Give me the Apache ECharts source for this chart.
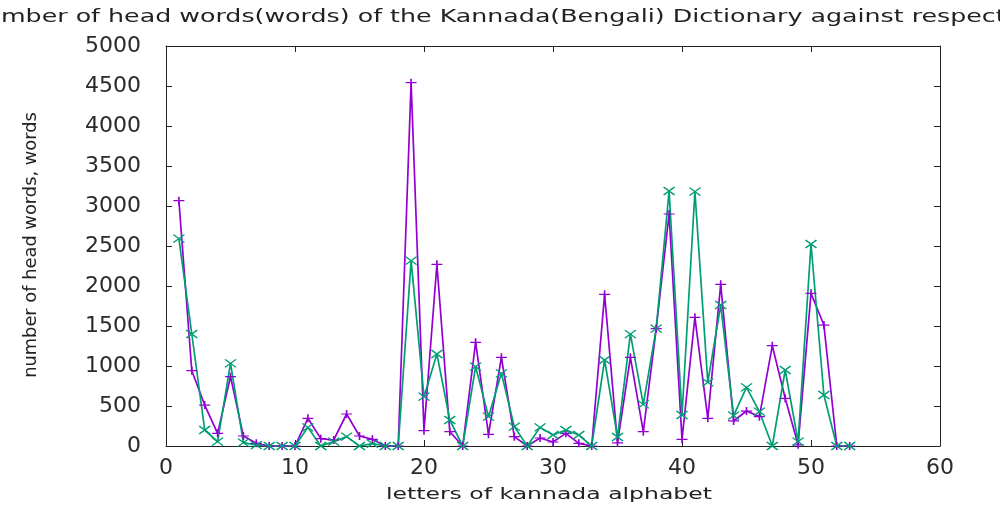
<!DOCTYPE html>
<html>
<head>
<meta charset="utf-8">
<title>head words per letter</title>
<script src="https://cdn.jsdelivr.net/npm/echarts@6/dist/echarts.min.js"></script>
<style>
    html, body { margin: 0; padding: 0; background: #fff; }
    #main { width: 1000px; height: 512px; }
</style>
</head>
<body>
<div id="main"></div>
<script>
/** letter index (x axis) */
var letters = [1, 2, 3, 4, 5, 6, 7, 8, 9, 10,
    11, 12, 13, 14, 15, 16, 17, 18, 19, 20,
    21, 22, 23, 24, 25, 26, 27, 28, 29, 30,
    31, 32, 33, 34, 35, 36, 37, 38, 39, 40,
    41, 42, 43, 44, 45, 46, 47, 48, 49, 50,
    51, 52, 53];

/** head words, purple series (+) */
var purpleWords = [3066, 941, 512, 158, 867, 125, 33, 0, 0, 0,
    346, 92, 75, 400, 125, 83, 0, 0, 4542, 192,
    2271, 179, 0, 1296, 146, 1108, 117, 0, 100, 50,
    158, 33, 0, 1896, 38, 1108, 179, 1467, 2900, 83,
    1608, 346, 2021, 313, 437, 367, 1254, 596, 15, 1908,
    1512, 0, 0];

/** head words, green series (x) */
var greenWords = [2592, 1400, 200, 54, 1033, 42, 10, 0, 0, 0,
    233, 0, 54, 117, 0, 30, 0, 0, 2317, 617,
    1150, 325, 0, 992, 367, 908, 242, 0, 233, 137,
    200, 137, 0, 1075, 112, 1398, 520, 1467, 3188, 387,
    3179, 796, 1762, 379, 733, 429, 0, 950, 54, 2525,
    637, 0, 0];

/** axis ranges [min, max, interval] */
var xRange = [0, 60, 10];
var yRange = [0, 5000, 500];

var titleText = 'Number of head words(words) of the Kannada(Bengali) Dictionary against respective letters';
var xName = 'letters of kannada alphabet';
var yName = 'number of head words, words';

var font = '"DejaVu Sans", sans-serif';

// pair up x and y
function toPairs(xs, ys) {
    var d = [];
    for (var i = 0; i < xs.length; i++) {
        d.push([xs[i], ys[i]]);
    }
    return d;
}

function makeAxis(pos, range, showLabel, margin) {
    return {
        type: 'value',
        position: pos,
        min: range[0],
        max: range[1],
        interval: range[2],
        axisLine: { show: true, onZero: false, lineStyle: { color: '#222', width: 1 } },
        axisTick: { show: true, inside: true, length: 6, lineStyle: { color: '#222' } },
        axisLabel: {
            show: showLabel,
            margin: margin,
            color: '#2a2a2a',
            fontFamily: font,
            fontSize: 22,
            formatter: function (v) { return String(v); }
        },
        splitLine: { show: false }
    };
}

function makeSeries(name, data, color, symbol) {
    return {
        name: name,
        type: 'line',
        xAxisIndex: 0,
        yAxisIndex: 0,
        data: data,
        symbol: symbol,
        symbolSize: [11, 8],
        showSymbol: true,
        showAllSymbol: true,
        lineStyle: { color: color, width: 1.7 },
        itemStyle: { color: color, borderColor: color, borderWidth: 1.4 },
        emphasis: { disabled: true }
    };
}

function draw() {
    var myChart = echarts.init(document.getElementById('main'));

    var option = {
        animation: false,
        backgroundColor: '#fff',
        grid: { left: 166, right: 60, top: 46, bottom: 66 },
        xAxis: [
            makeAxis('bottom', xRange, true, 11),
            makeAxis('top', xRange, false, 8)
        ],
        yAxis: [
            makeAxis('left', yRange, true, 25),
            makeAxis('right', yRange, false, 8)
        ],
        graphic: [
            {
                type: 'text', x: -34, y: 17, scaleX: 1.405,
                style: { text: titleText, font: '18px ' + font, fill: '#222', align: 'left', verticalAlign: 'middle' }
            },
            {
                type: 'text', x: 549, y: 495, scaleX: 1.47,
                style: { text: xName, font: '16px ' + font, fill: '#222', align: 'center', verticalAlign: 'middle' }
            },
            {
                type: 'text', x: 31, y: 245, rotation: Math.PI / 2, scaleX: 0.99,
                style: { text: yName, font: '18px ' + font, fill: '#222', align: 'center', verticalAlign: 'middle' }
            }
        ],
        series: [
            makeSeries('Kannada', toPairs(letters, purpleWords), '#9400D3', 'path://M0,5L10,5M5,0L5,10'),
            makeSeries('Bengali', toPairs(letters, greenWords), '#009E73', 'path://M0,0L10,10M10,0L0,10')
        ]
    };

    myChart.setOption(option);
}

draw();
</script>
</body>
</html>
